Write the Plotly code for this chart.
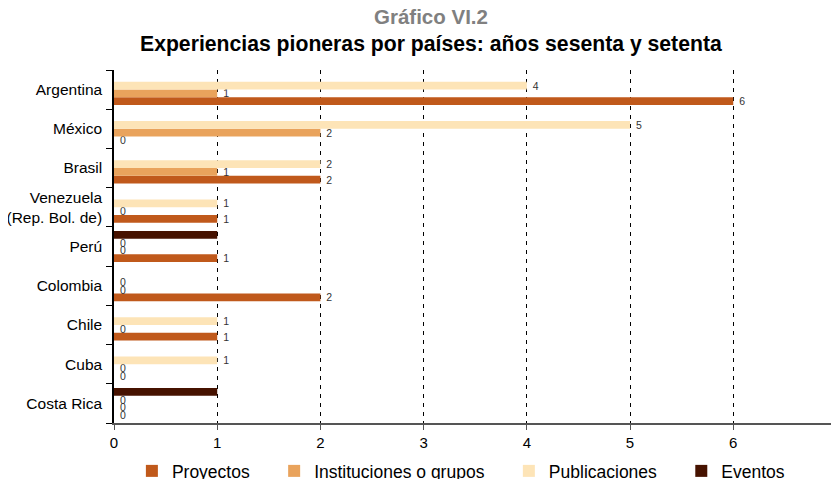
import plotly.graph_objects as go

paises = ["Argentina", "México", "Brasil", "Venezuela<br>(Rep. Bol. de)", "Perú",
          "Colombia", "Chile", "Cuba", "Costa Rica"]
proyectos = [6, 0, 2, 1, 1, 2, 1, 0, 0]
instituciones = [1, 2, 1, 0, 0, 0, 0, 0, 0]
publicaciones = [4, 5, 2, 1, 0, 0, 1, 1, 0]
eventos = [None, None, None, None, 1, None, None, None, 1]

NB = "\u00a0"
# (name, values, colour, show value labels); trailing nbsp widen legend spacing
series = [
    ("Proyectos" + NB * 4, proyectos, "#C0591B", True),
    ("Instituciones o grupos" + NB * 4, instituciones, "#E9A35C", True),
    ("Publicaciones" + NB * 4, publicaciones, "#FDE4B7", True),
    ("Eventos", eventos, "#461200", False),
]

# page is drawn with an 8px body margin, so the figure is offset by 8px
W, H = 831, 471
L, T, PW, PH = 106, 62, 724, 353

fig = go.Figure()
for name, vals, color, labels in series:
    fig.add_trace(go.Bar(
        y=paises, x=vals, name=name, orientation="h",
        marker=dict(color=color, line=dict(width=0)),
        text=[None if (v is None or not labels) else str(v) for v in vals],
        texttemplate=NB + "%{text}" if labels else None,
        textposition="outside", constraintext="none", cliponaxis=False,
        textfont=dict(size=10.5, color="#333333"),
    ))

fig.update_layout(
    width=W, height=H,
    margin=dict(l=L, r=W - L - PW, t=T, b=H - T - PH),
    paper_bgcolor="white", plot_bgcolor="white",
    font=dict(family="Liberation Sans, Arial, sans-serif", color="black"),
    barmode="group", bargap=0.21, bargroupgap=0,
    showlegend=True,
    legend=dict(orientation="h", xref="paper", x=0.0247, xanchor="left",
                yref="container", y=(H - 445) / H, yanchor="top",
                font=dict(size=17.5, color="black"), traceorder="normal"),
)
fig.add_annotation(text="<b>Gráfico VI.2</b>", xref="paper", yref="paper",
                   x=(423 - L) / PW, y=1 + (T - 9) / PH, showarrow=False,
                   font=dict(size=20.5, color="#808080"), yanchor="middle")
fig.add_annotation(text="<b>Experiencias pioneras por países: años sesenta y setenta</b>",
                   xref="paper", yref="paper",
                   x=(423 - L) / PW, y=1 + (T - 36) / PH, showarrow=False,
                   font=dict(size=21.2, color="black"), yanchor="middle")

# range a touch past 7 so plotly keeps the last dashed grid line
fig.update_xaxes(range=[0, 7.015], dtick=1, tick0=0, automargin=False,
                 ticklabeloverflow="allow",
                 showgrid=True, gridcolor="black", gridwidth=1, griddash="4px,5px",
                 zeroline=False, showline=True, linecolor="#555555", linewidth=2,
                 ticks="outside", ticklen=5, tickcolor="#555555",
                 tickfont=dict(size=15, color="black"))
fig.update_yaxes(categoryorder="array", categoryarray=paises[::-1], automargin=False,
                 showgrid=False, showline=True, linecolor="black", linewidth=1.5,
                 ticks="outside", ticklen=6, tickcolor="black", tickson="boundaries",
                 ticklabelstandoff=7,
                 tickfont=dict(size=15.5, color="black"))

fig.write_html("out.html")
